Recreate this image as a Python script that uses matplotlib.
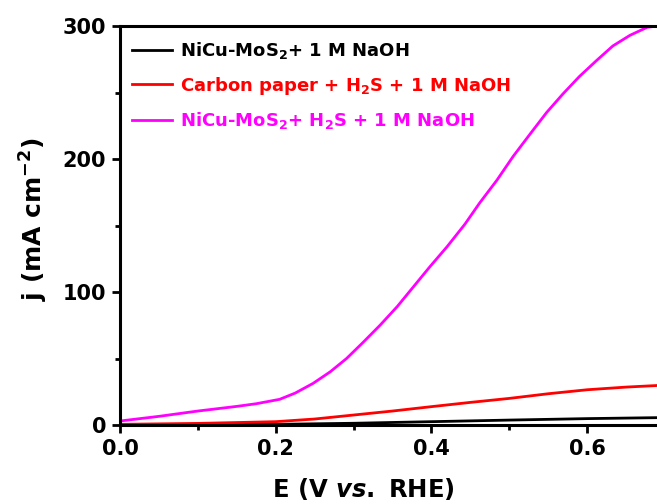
import numpy as np
import matplotlib
matplotlib.use('Agg')
import matplotlib.pyplot as plt

plt.rcParams['font.family'] = 'DejaVu Sans'
plt.rcParams['font.weight'] = 'bold'
plt.rcParams['mathtext.fontset'] = 'custom'
plt.rcParams['mathtext.rm'] = 'DejaVu Sans:bold'
plt.rcParams['mathtext.it'] = 'DejaVu Sans:italic:bold'
plt.rcParams['mathtext.bf'] = 'DejaVu Sans:bold'
plt.rcParams['mathtext.default'] = 'rm'

# NiCu-MoS2 + 1 M NaOH
e_black = [0.0, 0.1, 0.2, 0.3, 0.4, 0.5, 0.6, 0.7]
j_black = [0.0, 0.2, 0.5, 1.3, 2.5, 3.7, 4.8, 5.6]
# carbon paper + H2S + 1 M NaOH
e_red = [0.0, 0.1, 0.2, 0.25, 0.3, 0.35, 0.4, 0.45, 0.5, 0.55, 0.6, 0.65, 0.7]
j_red = [0.5, 1.2, 2.5, 4.5, 7.5, 10.5, 13.8, 17.0, 20.0, 23.5, 26.5, 28.5, 30.0]
# NiCu-MoS2 + H2S + 1 M NaOH
e_mag = [0.0, 0.05, 0.1, 0.15, 0.175, 0.205, 0.225, 0.248, 0.27, 0.291, 0.312,
         0.334, 0.356, 0.377, 0.398, 0.420, 0.443, 0.462, 0.484, 0.505, 0.527,
         0.548, 0.569, 0.59, 0.612, 0.633, 0.655, 0.677, 0.69, 0.70]
j_mag = [3.0, 6.5, 10.5, 14.0, 16.0, 19.3, 24.0, 31.3, 40.0, 50.0, 62.0,
         75.0, 89.0, 104.0, 119.0, 134.0, 151.0, 167.0, 184.0, 202.0, 219.0,
         235.0, 249.0, 262.0, 274.0, 285.0, 293.0, 299.0, 300.0, 300.0]

labels = [r'NiCu-MoS$_2$+ 1 M NaOH',
          r'Carbon paper + H$_2$S + 1 M NaOH',
          r'NiCu-MoS$_2$+ H$_2$S + 1 M NaOH']

fig = plt.figure(figsize=(6.57, 5.04), dpi=100)
ax = fig.add_axes([120 / 657, 79 / 504, 545 / 657, 399 / 504])
ax.plot(e_black, j_black, c='k', lw=2, label=labels[0])
ax.plot(e_red, j_red, c='#ff0000', lw=2, label=labels[1])
ax.plot(e_mag, j_mag, c='#ff00ff', lw=2, label=labels[2])

ax.set_xlim([0, 0.7])
ax.set_ylim([0, 300])
ax.set_xticks([0.0, 0.2, 0.4, 0.6])
ax.set_xticks([0.1, 0.3, 0.5], minor=True)
ax.set_yticks([0, 100, 200, 300])
ax.set_yticks([50, 150, 250], minor=True)
ax.set_xticklabels(['0.0', '0.2', '0.4', '0.6'])
for s in ax.spines.values():
    s.set_linewidth(2.2)
ax.tick_params(which='major', direction='out', length=6, width=2, labelsize=15, pad=4)
ax.tick_params(which='minor', direction='out', length=3.5, width=2)

ax.set_xlabel(r'E (V $\mathit{vs.}$ RHE)', fontsize=17.5, fontweight='bold')
ax.xaxis.set_label_coords(0.446, -0.128)
ax.set_ylabel(r'j (mA cm$^{-2}$)', fontsize=18, fontweight='bold')
ax.yaxis.set_label_coords(-0.128, 0.516)

leg = ax.legend(loc='upper left', frameon=False, fontsize=13, handlelength=2.2,
                handletextpad=0.45, labelspacing=0.74, borderaxespad=0,
                bbox_to_anchor=(0.009, 0.982))
for t, c in zip(leg.get_texts(), ['k', '#ff0000', '#ff00ff']):
    t.set_color(c)

plt.savefig('out.png', dpi=100)
